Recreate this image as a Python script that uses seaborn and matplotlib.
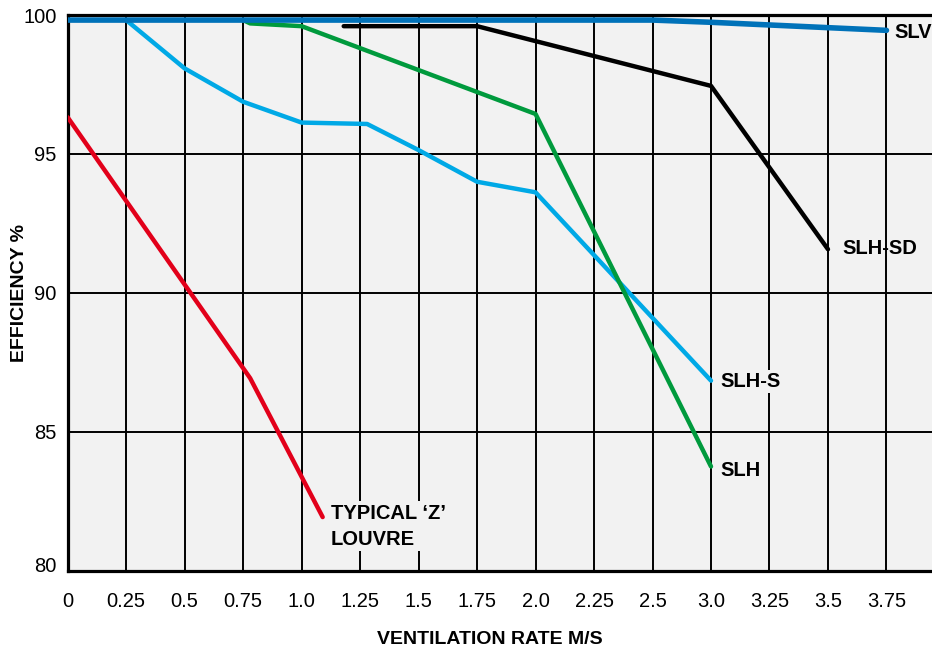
import numpy as np
import pandas as pd
import matplotlib
matplotlib.use('Agg')
import matplotlib.pyplot as plt
import matplotlib.transforms as mtransforms
import seaborn as sns

# --- Data ---
# x axis is not linear: 2.75 is skipped, so ticks are placed at equal steps
tick_rates = [0, 0.25, 0.5, 0.75, 1.0, 1.25, 1.5, 1.75, 2.0, 2.25, 2.5, 3.0, 3.25, 3.5, 3.75]
tick_labels = ['0', '0.25', '0.5', '0.75', '1.0', '1.25', '1.5', '1.75', '2.0',
               '2.25', '2.5', '3.0', '3.25', '3.5', '3.75']
y_ticks = [80, 85, 90, 95, 100]

slv_rate = [0, 2.5, 3.0, 3.75]
slv_eff = [99.82, 99.82, 99.74, 99.45]

slh_sd_rate = [1.18, 1.75, 3.0, 3.5]
slh_sd_eff = [99.6, 99.6, 97.45, 91.57]

slh_rate = [0.75, 0.78, 1.0, 2.0, 3.0]
slh_eff = [99.82, 99.7, 99.6, 96.44, 83.75]

slh_s_rate = [0.25, 0.5, 0.75, 1.0, 1.28, 1.5, 1.75, 2.0, 3.0]
slh_s_eff = [99.82, 98.08, 96.88, 96.13, 96.08, 95.14, 94.0, 93.62, 86.84]

z_rate = [0, 0.78, 1.09]
z_eff = [96.32, 86.93, 81.93]

tick_pos = np.arange(len(tick_rates))


def to_pos(rates):
    # map a ventilation rate onto the equally spaced tick positions
    return np.interp(rates, tick_rates, tick_pos)


sns.set_style('white', {'axes.facecolor': '#f2f2f2'})
plt.rcParams['font.family'] = ['Liberation Sans', 'DejaVu Sans']
plt.rcParams['text.color'] = 'black'
plt.rcParams['axes.labelcolor'] = 'black'
plt.rcParams['xtick.color'] = 'black'
plt.rcParams['ytick.color'] = 'black'

fig = plt.figure(figsize=(9.32, 6.55), dpi=100)
ax = fig.add_axes([0.0726, 0.1287, 0.93, 0.8483])

series = [
    (z_rate, z_eff, '#e2001a', 3.2),
    (slh_s_rate, slh_s_eff, '#00a9e6', 3.2),
    (slh_rate, slh_eff, '#009a3d', 3.2),
    (slh_sd_rate, slh_sd_eff, 'black', 3.2),
    (slv_rate, slv_eff, '#0072b9', 4.0),
]
for i, (rate, eff, color, lw) in enumerate(series):
    df = pd.DataFrame({'pos': to_pos(rate), 'eff': eff})
    sns.lineplot(data=df, x='pos', y='eff', color=color, linewidth=lw,
                 ax=ax, zorder=3 + i, sort=False)

ax.set_xlim(0, 14.82)
ax.set_ylim(80, 100)
ax.set_xticks(tick_pos)
ax.set_xticklabels(tick_labels)
ax.set_yticks(y_ticks)
ax.grid(True, color='black', linewidth=1.4)
ax.set_axisbelow(True)
ax.tick_params(axis='both', length=0, labelsize=14.5)
ax.tick_params(axis='x', pad=15)
ax.tick_params(axis='y', pad=8)

# the bottom "80" label sits a little above its gridline in the original
lab80 = ax.get_yticklabels()[0]
lab80.set_transform(lab80.get_transform() +
                    mtransforms.ScaledTranslation(0, 6 / 100, fig.dpi_scale_trans))

for side in ['left', 'bottom', 'top']:
    ax.spines[side].set_visible(True)
    ax.spines[side].set_color('black')
    ax.spines[side].set_linewidth(2.3)
ax.spines['right'].set_visible(False)

ax.set_xlabel('VENTILATION RATE M/S', fontsize=14, fontweight='bold')
ax.set_ylabel('EFFICIENCY %', fontsize=14, fontweight='bold')
ax.xaxis.set_label_coords(0.487, -0.108)
ax.yaxis.set_label_coords(-0.046, 0.5)

# series labels
box = dict(facecolor='#f2f2f2', edgecolor='none', pad=1.5)
ax.text(14.13, 99.39, 'SLV', fontsize=14.5, fontweight='bold', va='center', zorder=10)
ax.text(13.25, 91.58, 'SLH-SD', fontsize=14.5, fontweight='bold', va='center', zorder=10)
ax.text(11.16, 86.8, 'SLH-S', fontsize=14.5, fontweight='bold', va='center', bbox=box, zorder=10)
ax.text(11.16, 83.61, 'SLH', fontsize=14.5, fontweight='bold', va='center', zorder=10)
ax.text(4.5, 81.6, 'TYPICAL \u2018Z\u2019\nLOUVRE', fontsize=14.5, fontweight='bold',
        va='center', ha='left', linespacing=1.5, bbox=box, zorder=10)

fig.savefig('out.png', dpi=100)
plt.close(fig)
